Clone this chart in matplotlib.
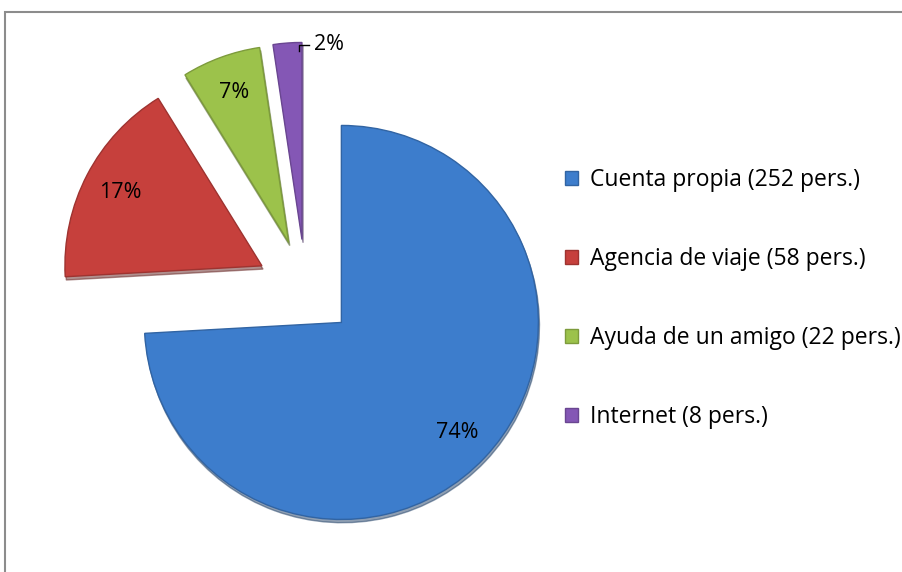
import numpy as np
import matplotlib
matplotlib.use('Agg')
import matplotlib.pyplot as plt
from matplotlib.patches import Rectangle
from matplotlib.colors import to_rgb

# ---------------------------------------------- #
#                     Data                       #
# ---------------------------------------------- #

categories = ['Cuenta propia (252 pers.)', 'Agencia de viaje (58 pers.)',
              'Ayuda de un amigo (22 pers.)', 'Internet (8 pers.)']
counts = [252, 58, 22, 8]
pct_labels = ['74%', '17%', '7%', '2%']
colors = ['#3D7DCC', '#C6403C', '#9CC24B', '#8457B5']

plt.rcParams['font.family'] = ['Open Sans', 'DejaVu Sans']

# ---------------------------------------------- #
#                   Figure                       #
# ---------------------------------------------- #

W, H = 902, 572
R = 197.0          # pie radius in pixels
cx, cy = 305.6, 288.6   # pie centre in pixels (from top-left)

fig = plt.figure(figsize=(W / 100, H / 100), dpi=100)
ax = fig.add_axes([0, 0, 1, 1])

wedges, texts, autotexts = ax.pie(
    counts, colors=colors, startangle=90, counterclock=False,
    explode=[0.25] * 4, labels=None,
    autopct=lambda p: '', pctdistance=0.81,
    shadow={'ox': 0.004, 'oy': -0.012, 'shade': 0.5},
    wedgeprops={'linewidth': 1.0})

for w, c in zip(wedges, colors):
    w.set_edgecolor(tuple(v * 0.8 for v in to_rgb(c)))

for t, lab in zip(autotexts, pct_labels):
    t.set_text(lab)
    t.set_fontsize(15.5)
    t.set_color('black')

# small slice label goes outside with a short leader line
w = wedges[3]
wc = np.array(w.center)
ang = np.deg2rad(82.0)
autotexts[3].set_position(wc + 1.0 * np.array([np.cos(ang), np.sin(ang)]))
a0 = np.deg2rad(min(w.theta1, w.theta2) + 0.8)
p = wc + 0.985 * np.array([np.cos(a0), np.sin(a0)])
ax.plot([p[0], p[0], p[0] + 0.05], [p[1] - 0.03, p[1], p[1]],
        color='black', lw=1.0)

# axis limits so that 1 data unit == R pixels
ax.set_xlim(-cx / R, (W - cx) / R)
ax.set_ylim((cy - H) / R, cy / R)
ax.set_aspect('auto')
ax.axis('off')

# ---------------------------------------------- #
#                   Legend                       #
# ---------------------------------------------- #

leg = ax.legend(wedges, categories, loc='center left',
                bbox_to_anchor=(565 / W, 1 - 298.5 / H),
                bbox_transform=fig.transFigure,
                frameon=False, fontsize=16.5, labelspacing=2.4,
                handlelength=0.55, handleheight=0.55, handletextpad=0.55,
                borderpad=0, borderaxespad=0)

# chart border (cut off on right and bottom like the original)
fig.patches.append(Rectangle((5 / W, -0.1), 1.2, 1.1 - 12 / H,
                             transform=fig.transFigure, fill=False,
                             edgecolor='#8c8c8c', lw=1.5))

fig.savefig('out.png', dpi=100)
